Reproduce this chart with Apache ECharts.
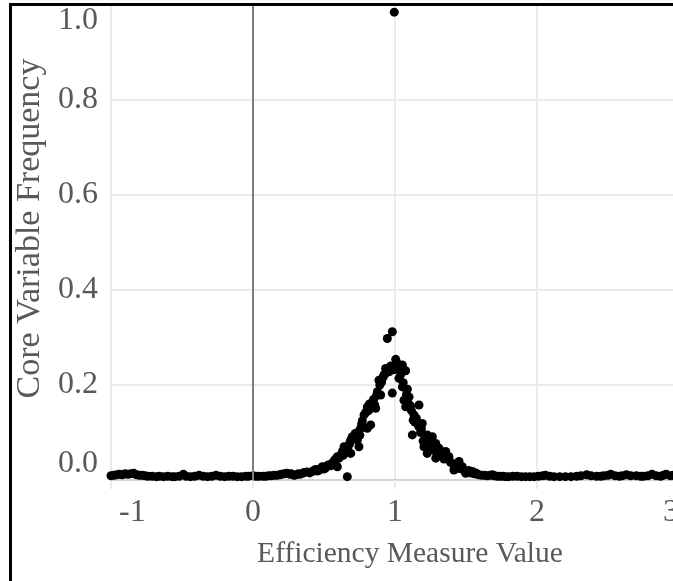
<!DOCTYPE html>
<html>
<head>
<meta charset="utf-8">
<script src="https://cdn.jsdelivr.net/npm/echarts@6/dist/echarts.min.js"></script>
<style>
  html, body { margin: 0; padding: 0; overflow: hidden; background: #fff; }
  #chart { width: 690px; height: 581px; }
</style>
</head>
<body>
<div id="chart"></div>
<script>
// tick labels
var xTicks = [-1, 0, 1, 2, 3]
var yTicks = ['0.0', '0.2', '0.4', '0.6', '0.8', '1.0']

// near-zero points left of the peak
var tailLeft = [
  [-1.02, 0.008], [-1.0, 0.009], [-0.98, 0.01], [-0.96, 0.011], [-0.94, 0.012],
  [-0.92, 0.011], [-0.9, 0.013], [-0.88, 0.012], [-0.86, 0.013], [-0.84, 0.014],
  [-0.82, 0.011], [-0.8, 0.01], [-0.78, 0.01], [-0.76, 0.009], [-0.74, 0.008],
  [-0.71, 0.008], [-0.68, 0.007], [-0.66, 0.008], [-0.63, 0.007], [-0.6, 0.008],
  [-0.57, 0.007], [-0.55, 0.007], [-0.52, 0.008], [-0.49, 0.012], [-0.47, 0.008],
  [-0.44, 0.007], [-0.41, 0.008], [-0.38, 0.01], [-0.35, 0.008], [-0.32, 0.007],
  [-0.29, 0.008], [-0.26, 0.01], [-0.23, 0.008], [-0.2, 0.007], [-0.17, 0.008],
  [-0.14, 0.008], [-0.11, 0.007], [-0.08, 0.007], [-0.05, 0.008], [-0.03, 0.008],
  [0.0, 0.009], [0.02, 0.008], [0.04, 0.008], [0.07, 0.008], [0.09, 0.008],
  [0.11, 0.009], [0.13, 0.009], [0.15, 0.01], [0.17, 0.01], [0.19, 0.011],
  [0.2, 0.012], [0.22, 0.013], [0.24, 0.014], [0.26, 0.012], [0.27, 0.013],
  [0.29, 0.01], [0.3, 0.011], [0.32, 0.013], [0.33, 0.012], [0.35, 0.014],
  [0.36, 0.016], [0.38, 0.017], [0.4, 0.015]
]

// the bell around 1
var peak = [
  [0.418, 0.018], [0.43, 0.02], [0.44, 0.022], [0.455, 0.019], [0.465, 0.021],
  [0.478, 0.025], [0.488, 0.028], [0.5, 0.023], [0.51, 0.025], [0.522, 0.03],
  [0.535, 0.032], [0.548, 0.03], [0.558, 0.035], [0.566, 0.038], [0.575, 0.042],
  [0.585, 0.045], [0.594, 0.028], [0.594, 0.049], [0.606, 0.046], [0.618, 0.053],
  [0.63, 0.06], [0.636, 0.052], [0.641, 0.07], [0.652, 0.064], [0.664, 0.007],
  [0.668, 0.066], [0.676, 0.074], [0.682, 0.078], [0.688, 0.084], [0.688, 0.056],
  [0.699, 0.091], [0.71, 0.088], [0.72, 0.098], [0.728, 0.092], [0.735, 0.084],
  [0.746, 0.102], [0.746, 0.07], [0.752, 0.094], [0.758, 0.109], [0.765, 0.118],
  [0.77, 0.125], [0.776, 0.113], [0.782, 0.137], [0.794, 0.142], [0.805, 0.154],
  [0.805, 0.109], [0.814, 0.146], [0.82, 0.16], [0.829, 0.116], [0.84, 0.164],
  [0.85, 0.17], [0.857, 0.158], [0.864, 0.151], [0.87, 0.178], [0.876, 0.186],
  [0.887, 0.21], [0.893, 0.2], [0.899, 0.179], [0.905, 0.206], [0.911, 0.214],
  [0.918, 0.218], [0.925, 0.222], [0.934, 0.235], [0.94, 0.226], [0.946, 0.298],
  [0.958, 0.228], [0.964, 0.236], [0.97, 0.24], [0.981, 0.312], [0.981, 0.183],
  [0.99, 0.232], [1.005, 0.254], [1.01, 0.238], [1.016, 0.246], [1.028, 0.214],
  [1.034, 0.232], [1.04, 0.222], [1.052, 0.242], [1.052, 0.196], [1.058, 0.205],
  [1.063, 0.168], [1.075, 0.23], [1.075, 0.154], [1.081, 0.18], [1.087, 0.191],
  [1.093, 0.162], [1.099, 0.175], [1.11, 0.156], [1.116, 0.146], [1.122, 0.095],
  [1.128, 0.126], [1.134, 0.137], [1.14, 0.122], [1.15, 0.13], [1.16, 0.118],
  [1.169, 0.158], [1.169, 0.112], [1.18, 0.1], [1.186, 0.108], [1.192, 0.119],
  [1.198, 0.082], [1.204, 0.07], [1.215, 0.088], [1.227, 0.095], [1.227, 0.056],
  [1.236, 0.074], [1.245, 0.085], [1.255, 0.068], [1.263, 0.091], [1.275, 0.062],
  [1.28, 0.07], [1.287, 0.077], [1.287, 0.046], [1.298, 0.058], [1.31, 0.067],
  [1.32, 0.055], [1.33, 0.052], [1.345, 0.044], [1.357, 0.06], [1.368, 0.046],
  [1.38, 0.049], [1.39, 0.038], [1.404, 0.035], [1.415, 0.021], [1.422, 0.027],
  [1.43, 0.03], [1.44, 0.024], [1.451, 0.039], [1.462, 0.024], [1.474, 0.028],
  [1.486, 0.02], [1.498, 0.014], [1.51, 0.017], [1.52, 0.02], [1.532, 0.015],
  [1.545, 0.018], [1.557, 0.013], [1.57, 0.015], [1.58, 0.012], [1.59, 0.011]
]

// near-zero points right of the peak
var tailRight = [
  [1.61, 0.01], [1.63, 0.01], [1.65, 0.009], [1.67, 0.01], [1.686, 0.011],
  [1.7, 0.009], [1.72, 0.008], [1.74, 0.008], [1.76, 0.008], [1.78, 0.007],
  [1.8, 0.007], [1.83, 0.008], [1.86, 0.008], [1.89, 0.007], [1.92, 0.007],
  [1.95, 0.007], [1.98, 0.007], [2.01, 0.008], [2.04, 0.009], [2.06, 0.01],
  [2.09, 0.008], [2.12, 0.007], [2.16, 0.007], [2.2, 0.007], [2.24, 0.007],
  [2.28, 0.008], [2.31, 0.009], [2.35, 0.011], [2.38, 0.009], [2.42, 0.008],
  [2.45, 0.008], [2.47, 0.009], [2.5, 0.01], [2.52, 0.012], [2.55, 0.009],
  [2.58, 0.008], [2.6, 0.009], [2.63, 0.011], [2.66, 0.009], [2.7, 0.009],
  [2.73, 0.008], [2.75, 0.008], [2.78, 0.009], [2.81, 0.012], [2.84, 0.009],
  [2.87, 0.008], [2.89, 0.01], [2.91, 0.012], [2.94, 0.009], [2.96, 0.01],
  [2.98, 0.011], [3.0, 0.011]
]

var outlier = [[0.995, 0.985]]

var fontName = 'Liberation Serif'
var textGray = '#595959'
var gridGray = '#ebebeb'

var chart = echarts.init(document.getElementById('chart'))

chart.setOption({
  animation: false,
  grid: {
    left: 111,
    top: 5,
    right: 11,
    bottom: 101
  },
  graphic: [
    {
      type: 'rect',
      z: 100,
      shape: { x: 10.5, y: 4.5, width: 900, height: 900 },
      style: { fill: 'none', stroke: '#000', lineWidth: 3 }
    }
  ],
  xAxis: {
    type: 'value',
    min: xTicks[0],
    max: xTicks[xTicks.length - 1],
    interval: 1,
    name: 'Efficiency Measure Value',
    nameLocation: 'middle',
    nameGap: 59,
    nameTextStyle: {
      fontFamily: fontName,
      fontSize: 29.5,
      color: textGray,
      padding: [0, 0, 0, 30]
    },
    axisLine: { show: true, lineStyle: { color: '#d4d4d4', width: 2 } },
    axisTick: { show: true, length: 9, lineStyle: { color: gridGray, width: 2 } },
    axisLabel: {
      fontFamily: fontName,
      fontSize: 32,
      color: textGray,
      margin: 17,
      alignMinLabel: 'left',
      alignMaxLabel: 'right',
      formatter: function (v) {
        // the first label sits a little right of its tick
        return v === xTicks[0] ? ' ' + v : String(v)
      }
    },
    splitLine: { show: true, showMinLine: true, lineStyle: { color: gridGray, width: 2 } }
  },
  yAxis: {
    type: 'value',
    min: 0,
    max: 1,
    interval: 0.2,
    name: 'Core Variable Frequency',
    nameLocation: 'middle',
    nameGap: 62,
    nameTextStyle: {
      fontFamily: fontName,
      fontSize: 34,
      color: textGray,
      padding: [0, 0, 0, 28]
    },
    axisLine: { show: false },
    axisTick: { show: true, length: 10, lineStyle: { color: gridGray, width: 2 } },
    axisLabel: {
      fontFamily: fontName,
      fontSize: 32,
      color: textGray,
      margin: 13,
      formatter: function (v) {
        return yTicks[Math.round(v / 0.2)]
      },
      verticalAlignMinLabel: 'bottom',
      verticalAlignMaxLabel: 'top'
    },
    splitLine: { show: true, lineStyle: { color: gridGray, width: 2 } }
  },
  series: [
    {
      type: 'scatter',
      symbolSize: 9,
      itemStyle: { color: '#000', opacity: 1 },
      data: tailLeft.concat(peak, tailRight, outlier),
      markLine: {
        silent: true,
        symbol: 'none',
        label: { show: false },
        lineStyle: { color: '#7f7f7f', width: 2, type: 'solid' },
        data: [{ xAxis: 0 }]
      }
    }
  ]
})
</script>
</body>
</html>
